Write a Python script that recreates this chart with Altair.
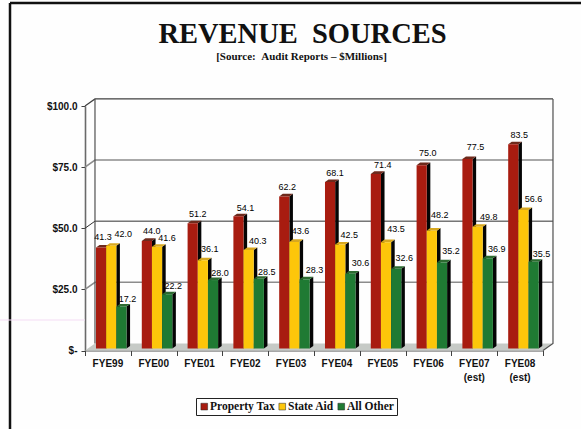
import altair as alt
import pandas as pd

fiscal_years = ["FYE99", "FYE00", "FYE01", "FYE02", "FYE03",
                "FYE04", "FYE05", "FYE06", "FYE07", "FYE08"]
year_notes = ["", "", "", "", "", "", "", "", "(est)", "(est)"]
property_tax = [41.3, 44.0, 51.2, 54.1, 62.2, 68.1, 71.4, 75.0, 77.5, 83.5]
state_aid = [42.0, 41.6, 36.1, 40.3, 43.6, 42.5, 43.5, 48.2, 49.8, 56.6]
all_other = [17.2, 22.2, 28.0, 28.5, 28.3, 30.6, 32.6, 35.2, 36.9, 35.5]
series_names = ["Property Tax", "State Aid", "All Other"]
series_values = [property_tax, state_aid, all_other]
front_colors = ["#a81c10", "#fdc60a", "#1f7a33"]
cap_colors = ["#6e2a1c", "#d8a820", "#2c6a30"]
grid_levels = [25, 50, 75, 100]
grid_colors = ["#8c8c8c", "#303030", "#8c8c8c", "#404040"]
grid_widths = [1.6, 1, 1.6, 1.2]

# Hand-placed value labels: pixel shift from the top centre of each bar
label_dx = [[2, 5, 5, 7, 3, 5, 7, 6, 8, 6],
            [12, 10, 7, 9, 6, 9, 10, 8, 11, 10],
            [6, 6, 7, 8, 10, 10, 8, 9, 9, 8]]
label_dy = [[-11, -10, -9, -8, -9, -9, -9, -12, -12, -9],
            [-12, -9, -11, -9, -11, -10, -13, -16, -10, -11],
            [-7, -8, -7, -7, -9, -11, -11, -11, -9, -8]]

WIDTH_PX, HEIGHT_PX = 458, 244.5
PX_X, PX_Y = WIDTH_PX / 10, HEIGHT_PX / 100

# Pseudo-3D depth, in data units of the two scales
WALL_DX, WALL_DY = 0.218, 2.9
BAR_DX, BAR_DY = 0.078, 1.05
BAR_LIFT_PX = 2
BAR_LIFT = BAR_LIFT_PX / PX_Y
BAR_START, BAR_W = 0.24, 0.222

x_scale = alt.Scale(domain=[0, 10], nice=False)
y_scale = alt.Scale(domain=[0, 100], nice=False)
x_axis = alt.Axis(values=list(range(11)), labels=False, title=None, grid=False,
                  tickSize=5, tickColor="#404040", domainColor="#505050", domainWidth=1.2)
y_axis = alt.Axis(values=[0, 25, 50, 75, 100], title=None, grid=False,
                  labelExpr="datum.value === 0 ? '$-' : '$' + format(datum.value, '.1f')",
                  labelFont="Liberation Sans", labelFontSize=10, labelFontWeight="bold",
                  labelColor="#111111", labelPadding=4, tickSize=4, tickColor="#404040",
                  domainColor="#6a6a6a", domainWidth=1.6)


def xq(field):
    return alt.X(f"{field}:Q", scale=x_scale, axis=x_axis)


def yq(field):
    return alt.Y(f"{field}:Q", scale=y_scale, axis=y_axis)


fronts, sides, caps, labels = [], [], [], []
for s, (name, values) in enumerate(zip(series_names, series_values)):
    for i, v in enumerate(values):
        left = i + BAR_START + s * BAR_W
        right = left + BAR_W
        key = f"{name}-{i}"
        fronts.append(dict(series=name, year=fiscal_years[i], left=left, right=right, value=v))
        top = v + BAR_LIFT
        sides += [dict(k=key, x=right, a=BAR_LIFT, b=top),
                  dict(k=key, x=right + BAR_DX, a=BAR_LIFT + BAR_DY, b=top + BAR_DY)]
        caps += [dict(k=key, series=name, x=left, a=top, b=top),
                 dict(k=key, series=name, x=left + BAR_DX, a=top, b=top + BAR_DY),
                 dict(k=key, series=name, x=right, a=top, b=top + BAR_DY),
                 dict(k=key, series=name, x=right + BAR_DX, a=top + BAR_DY, b=top + BAR_DY)]
        labels.append(dict(x=(left + right) / 2 + label_dx[s][i] / PX_X,
                           y=top - label_dy[s][i] / PX_Y, text=f"{v:.1f}"))

fronts = pd.DataFrame(fronts)
sides = pd.DataFrame(sides)
caps = pd.DataFrame(caps)
labels = pd.DataFrame(labels)

# Floor of the box
floor = pd.DataFrame([
    dict(x=0, a=0, b=0),
    dict(x=WALL_DX, a=0, b=WALL_DY),
    dict(x=10, a=0, b=WALL_DY),
    dict(x=10 + WALL_DX, a=WALL_DY, b=WALL_DY),
])
floor_layer = alt.Chart(floor).mark_area(color="#c6cac6").encode(x=xq("x"), y=yq("a"), y2="b:Q")

# Grid lines run along the left wall and across the back wall
layers = [floor_layer]
for level, color, width in zip(grid_levels, grid_colors, grid_widths):
    frame = pd.DataFrame([dict(x=0, y=level), dict(x=WALL_DX, y=level + WALL_DY),
                          dict(x=10 + WALL_DX, y=level + WALL_DY)])
    layers.append(alt.Chart(frame).mark_line(color=color, strokeWidth=width).encode(x=xq("x"), y=yq("y")))

edges = pd.DataFrame([
    dict(k="back", x=WALL_DX, y=WALL_DY), dict(k="back", x=WALL_DX, y=100 + WALL_DY),
    dict(k="right", x=10, y=0), dict(k="right", x=10 + WALL_DX, y=WALL_DY),
    dict(k="right", x=10 + WALL_DX, y=100 + WALL_DY),
])
layers.append(alt.Chart(edges).mark_line(color="#505050", strokeWidth=1.2).encode(
    x=xq("x"), y=yq("y"), detail="k:N"))

side_layer = alt.Chart(sides).mark_area(color="#050505").encode(
    x=xq("x"), y=yq("a"), y2="b:Q", detail="k:N")
cap_layer = alt.Chart(caps).mark_area().encode(
    x=xq("x"), y=yq("a"), y2="b:Q", detail="k:N",
    color=alt.Color("series:N", legend=None,
                    scale=alt.Scale(domain=series_names, range=cap_colors)))
front_layer = alt.Chart(fronts).mark_bar(yOffset=-BAR_LIFT_PX, y2Offset=-BAR_LIFT_PX).encode(
    x=xq("left"),
    x2="right:Q",
    y=yq("value"),
    y2=alt.datum(0),
    fill=alt.Fill("series:N", sort=series_names,
                  scale=alt.Scale(domain=series_names, range=front_colors),
                  legend=alt.Legend(
                      title=None, orient="none", legendX=111, legendY=292, direction="horizontal",
                      symbolType="square", symbolSize=45, symbolStrokeColor="#222222",
                      symbolStrokeWidth=0.5, labelFont="Liberation Serif", labelFontSize=11.5,
                      labelFontWeight="bold", labelColor="#111111", columnPadding=1,
                      labelOffset=0, strokeColor="#222222", fillColor="white", padding=2.5)),
)
layers += [side_layer, cap_layer, front_layer]

layers.append(alt.Chart(labels).mark_text(
    font="Liberation Sans", fontSize=9, color="#000000", baseline="middle").encode(
    x=xq("x"), y=yq("y"), text="text:N"))

# Category captions under the front axis
captions = pd.DataFrame(dict(x=[i + 0.5 for i in range(10)], name=fiscal_years, note=year_notes))
layers.append(alt.Chart(captions).mark_text(font="Liberation Sans", fontSize=10, color="#111111",
                                            fontWeight="bold").encode(
    x=xq("x"), y=alt.value(258), text="name:N"))
layers.append(alt.Chart(captions).mark_text(font="Liberation Sans", fontSize=10, color="#111111",
                                            fontWeight="bold").encode(
    x=xq("x"), y=alt.value(272), text="note:N"))

# Headline and page frame
heading = pd.DataFrame(dict(t=["REVENUE\u00a0\u00a0SOURCES"]))
layers.append(alt.Chart(heading).mark_text(font="Liberation Serif", fontSize=28.5, fontWeight="bold",
                                           color="#111111").encode(
    x=alt.value(217.5), y=alt.value(-72), text="t:N"))
subhead = pd.DataFrame(dict(t=["[Source:\u00a0\u00a0Audit Reports \u2013 $Millions]"]))
layers.append(alt.Chart(subhead).mark_text(font="Liberation Serif", fontSize=11, fontWeight="bold",
                                           color="#111111").encode(
    x=alt.value(216.5), y=alt.value(-49), text="t:N"))
page = pd.DataFrame(dict(k=["a"]))
layers.append(alt.Chart(page).mark_rule(color="#111111", strokeWidth=2.5).encode(
    x=alt.value(-75), x2=alt.value(-75), y=alt.value(-103), y2=alt.value(323)))
layers.append(alt.Chart(page).mark_rule(color="#111111", strokeWidth=2.5).encode(
    x=alt.value(-75), x2=alt.value(496), y=alt.value(-103)))
layers.append(alt.Chart(page).mark_rule(color="#f4dcf4", strokeWidth=1).encode(
    x=alt.value(-85), x2=alt.value(0), y=alt.value(214)))

chart = alt.layer(*layers).resolve_scale(color="independent", fill="independent").properties(
    width=WIDTH_PX, height=HEIGHT_PX,
    padding=dict(left=85, top=106, right=38, bottom=78.5),
    autosize=alt.AutoSizeParams(type="none"),
    background="#fefefe",
).configure_view(stroke=None)

chart.save("out.html", embed_options={"renderer": "svg", "actions": False})
